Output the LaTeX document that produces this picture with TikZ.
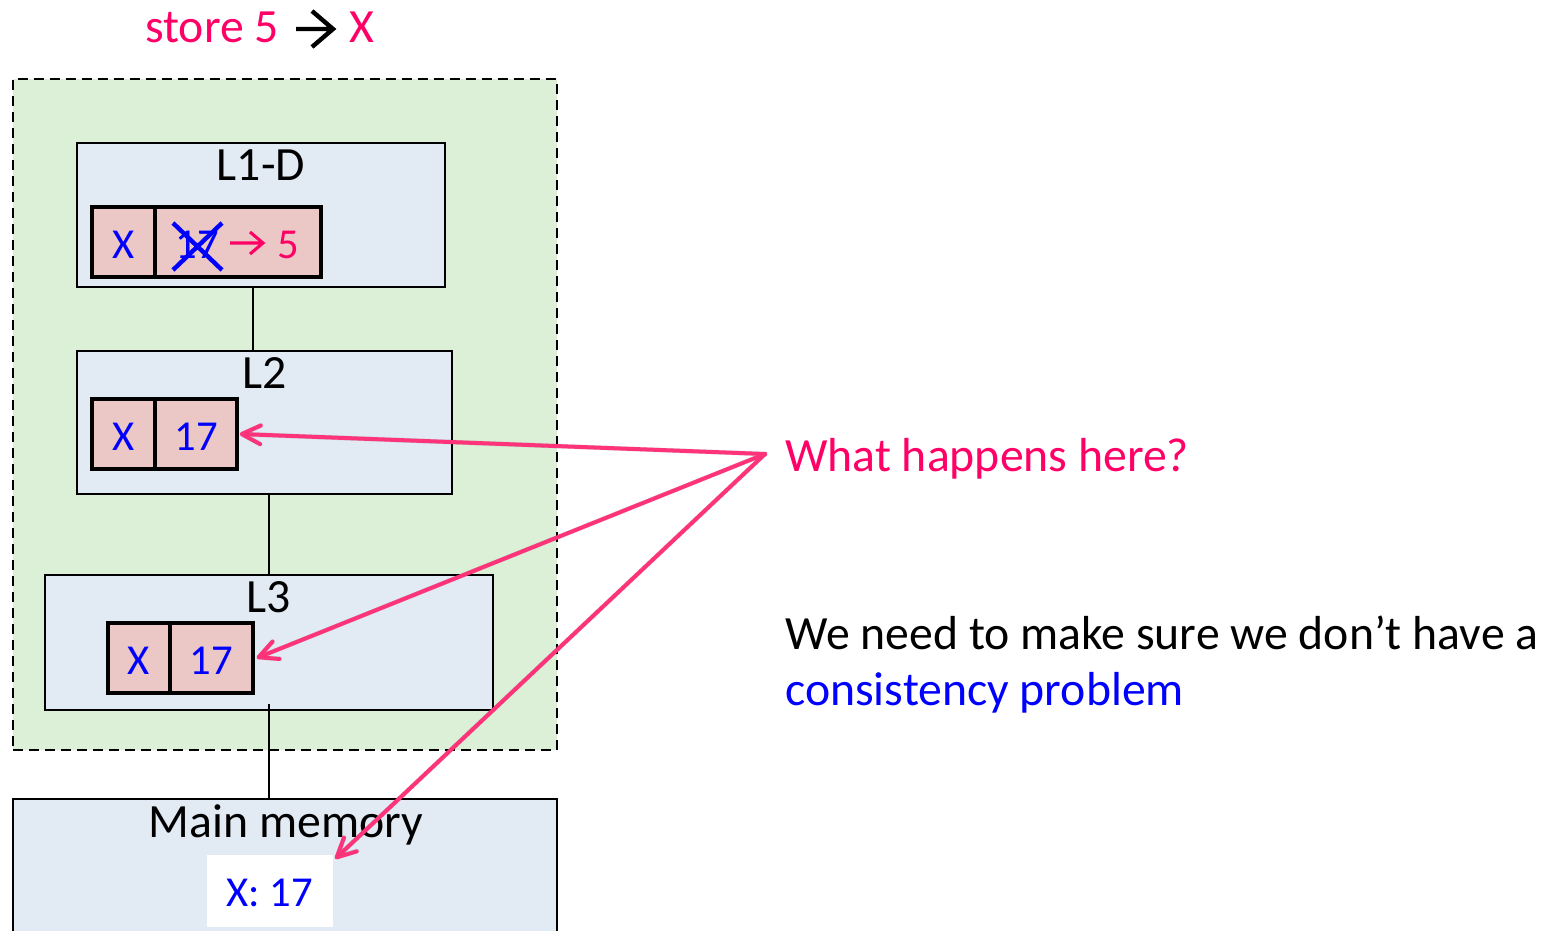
\documentclass[tikz,border=0pt]{standalone}
\usepackage{fontspec}
\setmainfont{Carlito}
\newfontfamily\arrowfont{DejaVu Sans}
\usetikzlibrary{arrows.meta}
\definecolor{pinktxt}{RGB}{255,0,102}
\definecolor{pinkarr}{RGB}{255,51,122}
\definecolor{bluetxt}{RGB}{0,0,255}
\definecolor{cellfill}{RGB}{235,199,198}
\definecolor{boxfill}{RGB}{226,234,244}
\definecolor{greenfill}{RGB}{220,240,216}
\tikzset{
  big/.style={font=\fontsize{35.8}{42}\selectfont},
  mid/.style={font=\fontsize{32}{38}\selectfont},
  cachebox/.style={draw=black, fill=boxfill, line width=1.5pt, inner sep=0pt},
  cell/.style={draw=black, fill=cellfill, line width=2.6pt, inner sep=0pt, mid, text=bluetxt, minimum height=52.5pt},
  celltext/.style={mid, inner sep=0pt, anchor=base},
  ghostarrow/.style={inner sep=0pt, text opacity=0, font=\arrowfont\fontsize{24}{24}\selectfont},
  chevron/.style={line width=#1, line join=miter, line cap=butt},
  link/.style={draw=black, line width=1.5pt},
  pointer/.style={draw=pinkarr, line width=3pt, line cap=round, -{Straight Barb[length=14pt,width=14pt,line width=3pt,round]}},
  pointershadow/.style={draw=black, draw opacity=0.12, line width=3.5pt, line cap=round, -{Straight Barb[length=14pt,width=14pt,line width=3.5pt,round]}},
}
\begin{document}
\begin{tikzpicture}[x=0.75pt,y=-0.75pt]
\useasboundingbox (0,0) rectangle (1553,931);
% top text
\node[big, text=pinktxt, anchor=base west, inner sep=0pt] (store) at (145,43) {store 5};
\node[ghostarrow] (arrA) at (315,29) {→};
\node[big, text=pinktxt, anchor=base west, inner sep=0pt] (storeX) at (349,43) {X};
\draw[chevron=3.3pt, black, shift={(arrA.center)}] (-19,0) -- (18,0) (-3,-18) -- (18,0) -- (-3,18);
% green region
\node[draw=black, fill=greenfill, dash pattern=on 7.5pt off 4.5pt, line width=1.9pt, minimum width=408pt, minimum height=503.25pt, inner sep=0pt] (core) at (285,414.5) {};
% caches
\node[cachebox, minimum width=276pt, minimum height=108pt] (L1) at (261,215) {};
\node[big] (L1lab) at (261,165) {L1-D};
\node[cachebox, minimum width=281.25pt, minimum height=107.25pt] (L2) at (264.5,422.5) {};
\node[big] (L2lab) at (265,373) {L2};
\node[cachebox, minimum width=336pt, minimum height=101.25pt] (L3) at (269,642.5) {};
\node[big] (L3lab) at (269,597) {L3};
\node[cachebox, minimum width=408pt, minimum height=105.75pt] (mem) at (285,869.5) {};
\node[big] (memlab) at (286,825) {Main memory};
\node[fill=white, minimum width=94.5pt, minimum height=54pt, inner sep=0pt] (memv) at (270,891) {};
\node[celltext, text=bluetxt] (memvt) at (270,906) {X: 17};
% cells
\node[cell, minimum width=47.25pt] (L1k) at (123.5,242) {};
\node[cell, minimum width=124.5pt] (L1v) at (238,242) {};
\node[cell, minimum width=47.25pt] (L2k) at (123.5,434) {};
\node[cell, minimum width=61.5pt] (L2v) at (196,434) {};
\node[cell, minimum width=46.5pt] (L3k) at (139,658) {};
\node[cell, minimum width=62.25pt] (L3v) at (211.5,658) {};
\node[celltext, text=bluetxt] (t1k) at (123.5,258) {X};
\node[celltext, text=bluetxt] (t1v) at (197,258) {17};
\node[ghostarrow] (arrB) at (247,243) {→};
\node[celltext, text=pinktxt] (t1n) at (288,258) {5};
\node[celltext, text=bluetxt] (t2k) at (123.5,450) {X};
\node[celltext, text=bluetxt] (t2v) at (196,450) {17};
\node[celltext, text=bluetxt] (t3k) at (139,674) {X};
\node[celltext, text=bluetxt] (t3v) at (211.5,674) {17};
\draw[chevron=2.3pt, pinktxt, shift={(arrB.center)}] (-17,0) -- (16,0) (3,-11) -- (16,0) -- (3,11);
% cross over 17
\draw[bluetxt, line width=3.3pt] (173,223) -- (222,270) (173,270) -- (222,223);
% connectors
\coordinate (c1) at (253,0);
\coordinate (c2) at (269,0);
\draw[link] (L1.south -| c1) -- (L2.north -| c1);
\draw[link] (L2.south -| c2) -- (L3.north -| c2);
\draw[link] ([yshift=5.25pt]L3.south) -- (mem.north -| c2);
% right texts
\node[big, text=pinktxt, anchor=west, inner sep=0pt] (q) at (785,459) {What happens here?};
\node[big, anchor=west, align=left, inner sep=0pt] (note) at (785,665) {We need to make sure we don’t have a\\{\color{bluetxt}consistency problem}};
\coordinate (src) at (765,454);
\begin{scope}[shift={(2,3)}]
\draw[pointershadow] (src) -- ([xshift=0.75pt]L2v.east);
\draw[pointershadow] (src) -- ([xshift=1.5pt]L3v.east);
\draw[pointershadow] (src) -- ([xshift=1.5pt,yshift=-3pt]memv.north east);
\end{scope}
\draw[pointer] (src) -- ([xshift=0.75pt]L2v.east);
\draw[pointer] (src) -- ([xshift=1.5pt]L3v.east);
\draw[pointer] (src) -- ([xshift=1.5pt,yshift=-3pt]memv.north east);
\end{tikzpicture}
\end{document}
